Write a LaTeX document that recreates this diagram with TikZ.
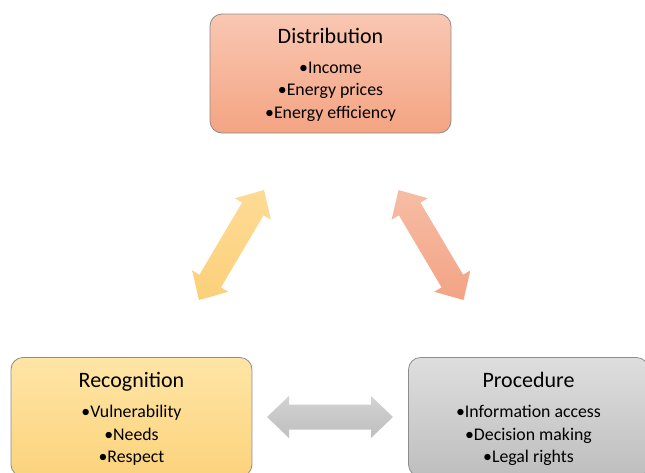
\documentclass[tikz,border=0pt]{standalone}
\usepackage{fontspec}
\setmainfont{Carlito}
\usetikzlibrary{calc}
\definecolor{distTop}{HTML}{F9C7B2}
\definecolor{distBot}{HTML}{F4A482}
\definecolor{recTop}{HTML}{FEE5A6}
\definecolor{recBot}{HTML}{FCD37C}
\definecolor{proTop}{HTML}{DEDEDE}
\definecolor{proBot}{HTML}{BEBEBE}
\definecolor{boxLine}{HTML}{8C8C8C}
\definecolor{yArrTop}{HTML}{FDDB95}
\definecolor{yArrBot}{HTML}{FCD07A}
\definecolor{oArrTop}{HTML}{F6BDA5}
\definecolor{oArrBot}{HTML}{F3A385}
\definecolor{gArrTop}{HTML}{D2D2D2}
\definecolor{gArrBot}{HTML}{BFBFBF}
\tikzset{
  panel/.style={draw=boxLine, line width=0.8pt, rounded corners=12pt,
    minimum width=241pt, minimum height=119pt, inner sep=0pt},
  ptitle/.style={anchor=base, font=\fontsize{22}{22}\selectfont, text=black},
  pitem/.style={anchor=base, font=\fontsize{17.8}{17.8}\selectfont, text=black},
}
% fat double arrow between two coordinates
\newcommand\fatarrow[3]{%
  \path[#3] (#1)
    -- ($(#1)!22pt!(#2)!21pt!90:(#2)$)
    -- ($(#1)!22pt!(#2)!12.5pt!90:(#2)$)
    -- ($(#2)!22pt!(#1)!12.5pt!-90:(#1)$)
    -- ($(#2)!22pt!(#1)!21pt!-90:(#1)$)
    -- (#2)
    -- ($(#2)!22pt!(#1)!21pt!90:(#1)$)
    -- ($(#2)!22pt!(#1)!12.5pt!90:(#1)$)
    -- ($(#1)!22pt!(#2)!12.5pt!-90:(#2)$)
    -- ($(#1)!22pt!(#2)!21pt!-90:(#2)$)
    -- cycle;}
\begin{document}
\begin{tikzpicture}[x=1pt,y=-1pt]
\useasboundingbox (0,0) rectangle (645,472);
\clip (0,0) rectangle (645,472);

% panels
\node[panel, top color=distTop, bottom color=distBot] (dist) at (330.5,73.5) {};
\node[panel, top color=recTop, bottom color=recBot] (rec) at (131.5,417) {};
\node[panel, top color=proTop, bottom color=proBot, minimum width=240pt] (pro) at (528.5,417) {};

% texts
\node[ptitle] (distT) at (330.5,43) {Distribution};
\node[pitem] (distA) at (330.5,73) {•Income};
\node[pitem] (distB) at (330.5,95.5) {•Energy prices};
\node[pitem] (distC) at (330.5,118) {•Energy efficiency};

\node[ptitle] (recT) at (131.5,387) {Recognition};
\node[pitem] (recA) at (131.5,417) {•Vulnerability};
\node[pitem] (recB) at (131.5,440) {•Needs};
\node[pitem] (recC) at (131.5,462) {•Respect};

\node[ptitle] (proT) at (528.5,387) {Procedure};
\node[pitem] (proA) at (528.5,417) {•Information access};
\node[pitem] (proB) at (528.5,440) {•Decision making};
\node[pitem] (proC) at (528.5,462) {•Legal rights};

% arrow end points
\coordinate (la) at (199,300);
\coordinate (lb) at (264,190);
\coordinate (ra) at (398.5,190);
\coordinate (rb) at (463.5,300);
\coordinate (ha) at (267,417);
\coordinate (hb) at (393,417);

\fatarrow{la}{lb}{top color=yArrTop, bottom color=yArrBot}
\fatarrow{ra}{rb}{top color=oArrTop, bottom color=oArrBot}
\fatarrow{ha}{hb}{top color=gArrTop, bottom color=gArrBot}
\end{tikzpicture}
\end{document}
